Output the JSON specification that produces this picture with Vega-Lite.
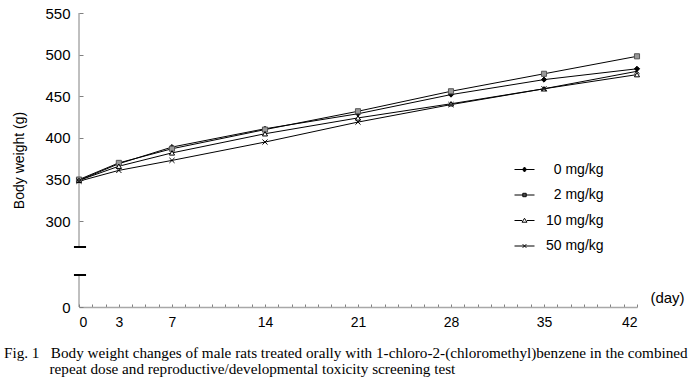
{
  "$schema": "https://vega.github.io/schema/vega-lite/v6.json",
  "width": 558,
  "height": 294,
  "autosize": "none",
  "padding": {"left": 79, "top": 13, "right": 54, "bottom": 71},
  "background": "white",
  "config": {"view": {"stroke": null}, "font": "Liberation Sans"},
  "title": {
    "text": [
      "Fig. 1\u00a0\u00a0 Body weight changes of male rats treated orally with 1-chloro-2-(chloromethyl)benzene in the combined",
      "\u200b\u00a0\u00a0\u00a0\u00a0\u00a0\u00a0\u00a0\u00a0\u00a0\u00a0\u00a0\u00a0repeat dose and reproductive/developmental toxicity screening test"
    ],
    "orient": "bottom",
    "anchor": "start",
    "frame": "group",
    "dx": -75,
    "offset": 17,
    "font": "Liberation Serif",
    "fontSize": 15.2,
    "fontWeight": "normal",
    "color": "black",
    "lineHeight": 16
  },
  "data": {
    "values": [
      {"day": 0, "dose": "0 mg/kg", "weight": 349},
      {"day": 3, "dose": "0 mg/kg", "weight": 369},
      {"day": 7, "dose": "0 mg/kg", "weight": 389},
      {"day": 14, "dose": "0 mg/kg", "weight": 411},
      {"day": 21, "dose": "0 mg/kg", "weight": 429},
      {"day": 28, "dose": "0 mg/kg", "weight": 452},
      {"day": 35, "dose": "0 mg/kg", "weight": 470},
      {"day": 42, "dose": "0 mg/kg", "weight": 483},
      {"day": 0, "dose": "2 mg/kg", "weight": 350},
      {"day": 3, "dose": "2 mg/kg", "weight": 370},
      {"day": 7, "dose": "2 mg/kg", "weight": 387},
      {"day": 14, "dose": "2 mg/kg", "weight": 410},
      {"day": 21, "dose": "2 mg/kg", "weight": 432},
      {"day": 28, "dose": "2 mg/kg", "weight": 456},
      {"day": 35, "dose": "2 mg/kg", "weight": 477},
      {"day": 42, "dose": "2 mg/kg", "weight": 498},
      {"day": 0, "dose": "10 mg/kg", "weight": 349},
      {"day": 3, "dose": "10 mg/kg", "weight": 366},
      {"day": 7, "dose": "10 mg/kg", "weight": 382},
      {"day": 14, "dose": "10 mg/kg", "weight": 405},
      {"day": 21, "dose": "10 mg/kg", "weight": 424},
      {"day": 28, "dose": "10 mg/kg", "weight": 441},
      {"day": 35, "dose": "10 mg/kg", "weight": 459},
      {"day": 42, "dose": "10 mg/kg", "weight": 476},
      {"day": 0, "dose": "50 mg/kg", "weight": 348},
      {"day": 3, "dose": "50 mg/kg", "weight": 361},
      {"day": 7, "dose": "50 mg/kg", "weight": 373},
      {"day": 14, "dose": "50 mg/kg", "weight": 395},
      {"day": 21, "dose": "50 mg/kg", "weight": 419},
      {"day": 28, "dose": "50 mg/kg", "weight": 440},
      {"day": 35, "dose": "50 mg/kg", "weight": 459},
      {"day": 42, "dose": "50 mg/kg", "weight": 480}
    ]
  },
  "encoding": {
    "x": {
      "field": "day",
      "type": "quantitative",
      "scale": {"domain": [0, 42], "nice": false, "zero": false},
      "axis": {
        "values": [0,1,2,3,4,5,6,7,8,9,10,11,12,13,14,15,16,17,18,19,20,21,22,23,24,25,26,27,28,29,30,31,32,33,34,35,36,37,38,39,40,41,42],
        "labelExpr": "indexof([0,3,7,14,21,28,35,42], datum.value) >= 0 ? datum.label : ''",
        "grid": false,
        "domainColor": "#a8a8a8",
        "domainWidth": 1.5,
        "tickColor": "#808080",
        "tickSize": -3,
        "labelPadding": 11,
        "labelFont": "Liberation Sans",
        "labelFontSize": 14,
        "labelColor": "black",
        "title": "(day)",
        "titleFont": "Liberation Sans",
        "titleFontSize": 15,
        "titleFontWeight": "normal",
        "titleColor": "black",
        "titleX": 588,
        "titleY": -10,
        "titleAlign": "center",
        "titleBaseline": "middle"
      }
    },
    "y": {
      "field": "weight",
      "type": "quantitative",
      "scale": {"domain": [0, 40, 269, 550], "range": [294, 262, 234, 0], "nice": false, "zero": false},
      "axis": {
        "values": [0, 300, 350, 400, 450, 500, 550],
        "grid": false,
        "domain": false,
        "tickColor": "#808080",
        "tickSize": -4,
        "labelPadding": 13,
        "labelFont": "Liberation Sans",
        "labelFontSize": 15,
        "labelColor": "black",
        "title": "Body weight (g)",
        "titleFont": "Liberation Sans",
        "titleFontSize": 14,
        "titleFontWeight": "normal",
        "titleColor": "black",
        "titlePadding": 18
      }
    }
  },
  "layer": [
    {
      "transform": [{"filter": "datum.day == 0 && datum.dose == '0 mg/kg'"}],
      "mark": {"type": "rule", "color": "#808080", "strokeWidth": 1},
      "encoding": {"x": {"datum": 0}, "y": {"datum": 269}, "y2": {"datum": 550}}
    },
    {
      "transform": [{"filter": "datum.day == 0 && datum.dose == '0 mg/kg'"}],
      "mark": {"type": "rule", "color": "#808080", "strokeWidth": 1},
      "encoding": {"x": {"datum": 0}, "y": {"datum": 0}, "y2": {"datum": 40}}
    },
    {
      "transform": [{"filter": "datum.day == 0 && datum.dose == '0 mg/kg'"}],
      "mark": {"type": "rule", "color": "black", "strokeWidth": 2},
      "encoding": {"x": {"datum": -0.38}, "x2": {"datum": 0.53}, "y": {"datum": 269}}
    },
    {
      "transform": [{"filter": "datum.day == 0 && datum.dose == '0 mg/kg'"}],
      "mark": {"type": "rule", "color": "black", "strokeWidth": 2},
      "encoding": {"x": {"datum": -0.38}, "x2": {"datum": 0.53}, "y": {"datum": 40}}
    },
    {
      "mark": {"type": "line", "strokeWidth": 1},
      "encoding": {
        "stroke": {
          "field": "dose",
          "type": "nominal",
          "scale": {
            "domain": ["0 mg/kg", "2 mg/kg", "10 mg/kg", "50 mg/kg"],
            "range": ["black", "black", "black", "black"]
          },
          "legend": {
            "title": null,
            "orient": "none",
            "legendX": 435,
            "legendY": 146,
            "padding": 0,
            "symbolSize": 400,
            "symbolStrokeWidth": 1,
            "labelOffset": 11,
            "rowPadding": 7.5,
            "labelFont": "Liberation Sans",
            "labelFontSize": 14,
            "labelColor": "black",
            "labelExpr": "length(datum.label) < 8 ? '\u200b\u00a0\u00a0' + datum.label : datum.label",
            "encode": {
              "symbols": {
                "update": {
                  "shape": {"signal": "datum.value === '0 mg/kg' ? 'M-1,0H1M0,-0.25L0.2,0L0,0.25L-0.2,0Z' : datum.value === '2 mg/kg' ? 'M-1,0H1M-0.17,-0.17H0.17V0.17H-0.17Z' : datum.value === '10 mg/kg' ? 'M-1,0H-0.25M0.25,0H1M0,-0.22L0.25,0.17H-0.25Z' : 'M-1,0H1M-0.18,-0.18L0.18,0.18M-0.18,0.18L0.18,-0.18'"},
                  "fill": {"signal": "datum.value === '0 mg/kg' ? 'black' : datum.value === '2 mg/kg' ? '#999999' : 'white'"},
                  "strokeWidth": {"value": 1}
                }
              }
            }
          }
        }
      }
    },
    {
      "transform": [{"filter": "datum.dose == '0 mg/kg'"}],
      "mark": {"type": "point", "shape": "diamond", "filled": true, "fill": "black", "stroke": "black", "strokeWidth": 1, "opacity": 1, "size": 26}
    },
    {
      "transform": [{"filter": "datum.dose == '2 mg/kg'"}],
      "mark": {"type": "point", "shape": "square", "filled": true, "fill": "#999999", "stroke": "#555555", "strokeWidth": 1, "opacity": 1, "size": 26}
    },
    {
      "transform": [{"filter": "datum.dose == '10 mg/kg'"}],
      "mark": {"type": "point", "shape": "triangle-up", "filled": true, "fill": "white", "stroke": "black", "strokeWidth": 1, "opacity": 1, "size": 26}
    },
    {
      "transform": [{"filter": "datum.dose == '50 mg/kg'"}],
      "mark": {"type": "point", "shape": "M-1,-1L1,1M-1,1L1,-1", "filled": false, "stroke": "black", "strokeWidth": 1, "opacity": 1, "size": 26}
    }
  ]
}
